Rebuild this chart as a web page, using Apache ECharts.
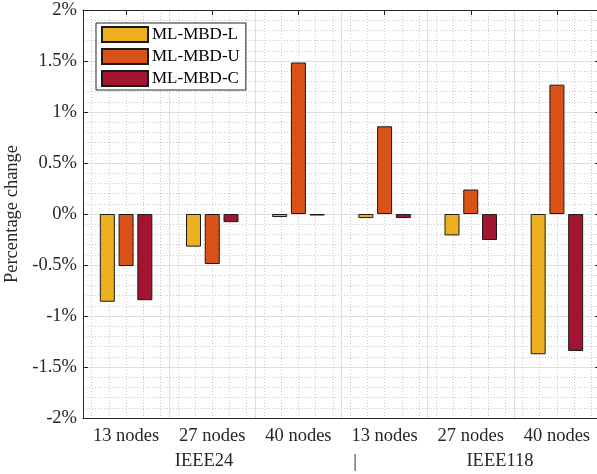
<!DOCTYPE html>
<html><head><meta charset="utf-8">
<script src="https://cdn.jsdelivr.net/npm/echarts@6/dist/echarts.min.js"></script>
<style>html,body{margin:0;padding:0;background:#fff}#c{width:597px;height:474px}</style>
</head><body><div id="c"></div>
<script>
const categories = ['13 nodes','27 nodes','40 nodes','13 nodes','27 nodes','40 nodes'];
const seriesNames = ['ML-MBD-L','ML-MBD-U','ML-MBD-C'];
const valuesL = [-0.86, -0.32, -0.03, -0.04, -0.21, -1.375];
const valuesU = [-0.51, -0.49, 1.485, 0.86, 0.24, 1.268];
const valuesC = [-0.845, -0.08, -0.015, -0.04, -0.255, -1.343];
const groupLabels = ['IEEE24', '|', 'IEEE118'];

const FONT = 'Liberation Serif';
const colors = ['#EDB120', '#D95319', '#A2142F'];
const chart = echarts.init(document.getElementById('c'), null, {renderer: 'canvas'});
const axisCol = '#262626';
const gridCol = '#dedede';
const minorCol = '#c8c8c8';

function bar(name, data, color) {
  return {
    name, type: 'bar', data, xAxisIndex: 0, yAxisIndex: 0,
    barWidth: 15, barGap: '25%',
    itemStyle: {color, borderColor: '#1a1a1a', borderWidth: 1},
    z: 3
  };
}

chart.setOption({
  animation: false,
  backgroundColor: '#fff',
  grid: {left: 83, top: 10, width: 517, height: 408, containLabel: false, outerBoundsMode: 'none'},
  legend: {
    orient: 'vertical', left: 96, top: 23,
    data: seriesNames,
    icon: 'rect', itemWidth: 46, itemHeight: 15, itemGap: 5,
    padding: [3, 6, 3, 5],
    borderColor: axisCol, borderWidth: 1, backgroundColor: '#fff',
    textStyle: {fontFamily: FONT, fontSize: 17, lineHeight: 16, color: '#000', padding: [0,0,0,-1]},
    z: 10
  },
  xAxis: [
    {
      type: 'category', data: categories, position: 'bottom',
      axisLine: {onZero: false, lineStyle: {color: axisCol, width: 1}},
      axisTick: {inside: true, length: 5, alignWithLabel: true, lineStyle: {color: axisCol}},
      axisLabel: {interval: 0, fontFamily: FONT, fontSize: 18.5, color: axisCol, margin: 9},
      splitLine: {show: true, interval: 0, lineStyle: {color: gridCol, width: 1}},
    },
    {
      type: 'category', data: categories, position: 'top',
      axisLine: {show: true, onZero: false, lineStyle: {color: axisCol, width: 1}},
      axisTick: {show: true, interval: 0, inside: true, length: 5, alignWithLabel: true, lineStyle: {color: axisCol}},
      axisLabel: {show: false}, splitLine: {show: false}
    },
    {
      type: 'value', position: 'bottom', min: 0.5, max: 6.5, interval: 0.1,
      axisLine: {show: false, onZero: false}, axisTick: {show: false}, axisLabel: {show: false},
      splitLine: {show: true, lineStyle: {color: ['transparent', minorCol], type: [1, 2], width: 1}}
    }
  ],
  yAxis: [
    {
      type: 'value', min: -2, max: 2, interval: 0.5, position: 'left',
      name: 'Percentage change', nameLocation: 'middle', nameGap: 60,
      nameTextStyle: {fontFamily: FONT, fontSize: 18.5, color: axisCol},
      axisLine: {show: true, onZero: false, lineStyle: {color: axisCol, width: 1}},
      axisTick: {show: true, inside: true, length: 5, lineStyle: {color: axisCol}},
      axisLabel: {fontFamily: FONT, fontSize: 18.5, color: axisCol, margin: 6,
        formatter: v => (Math.round(v*10)/10) + '%'},
      splitLine: {show: true, lineStyle: {color: gridCol, width: 1}},
      minorTick: {show: false, splitNumber: 5},
      minorSplitLine: {show: true, lineStyle: {color: minorCol, type: [1, 2], width: 1}}
    },
    {
      type: 'value', min: -2, max: 2, interval: 0.5, position: 'right',
      axisLine: {show: true, onZero: false, lineStyle: {color: axisCol, width: 1}},
      axisTick: {show: true, inside: true, length: 5, lineStyle: {color: axisCol}},
      axisLabel: {show: false}, splitLine: {show: false}
    }
  ],
  graphic: [
    {type: 'text', x: 204, y: 461, style: {text: groupLabels[0], font: '18.5px "Liberation Serif"', fill: axisCol, textAlign: 'center', textVerticalAlign: 'middle'}},
    {type: 'text', x: 355, y: 462, style: {text: groupLabels[1], font: '18.5px "Liberation Serif"', fill: axisCol, textAlign: 'center', textVerticalAlign: 'middle'}},
    {type: 'text', x: 500, y: 461, style: {text: groupLabels[2], font: '18.5px "Liberation Serif"', fill: axisCol, textAlign: 'center', textVerticalAlign: 'middle'}}
  ],
  series: [
    bar(seriesNames[0], valuesL, colors[0]),
    bar(seriesNames[1], valuesU, colors[1]),
    bar(seriesNames[2], valuesC, colors[2])
  ]
});
</script></body></html>
